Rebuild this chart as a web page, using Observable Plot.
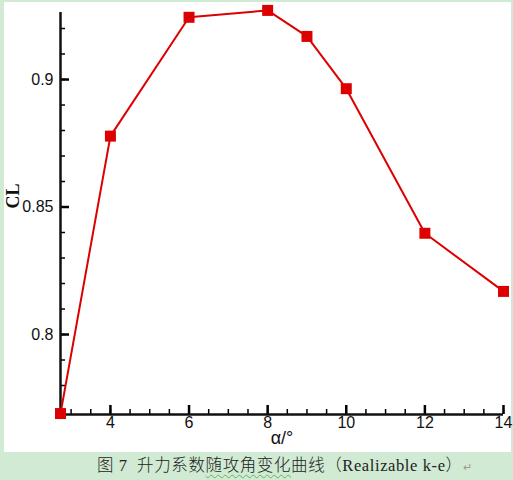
<!DOCTYPE html>
<html>
<head>
<meta charset="utf-8">
<script src="https://cdn.jsdelivr.net/npm/d3@7"></script>
<script src="https://cdn.jsdelivr.net/npm/@observablehq/plot@0.6"></script>
<style>
  html, body { margin: 0; padding: 0; }
  body { width: 513px; height: 480px; background: #d0ead3; position: relative; overflow: hidden; }
  #panel { position: absolute; left: 4px; top: 2px; width: 507px; height: 450px; background: #fff; }
  #caption { position: absolute; left: 97px; top: 454px; height: 24px; line-height: 24px; font-size: 16.5px;
    font-family: "Liberation Serif", "Noto Sans CJK SC", serif; font-weight: 300; color: #222; white-space: nowrap; letter-spacing: 0.6px; }
  #caption .wavy { text-decoration: underline wavy #5cb85c; text-decoration-thickness: 1px; text-underline-offset: 3px; }
  #caption .ret { color: #999; font-size: 11px; }
</style>
</head>
<body>
<div id="panel"></div>
<div id="caption">图 7&nbsp; 升力系数<span class="wavy">随攻角变化</span>曲线（Realizable k-e）<span class="ret">↵</span></div>
<script>
// Data
const alpha = [2.73, 4, 6, 8, 9, 10, 12, 14];
const cl = [0.769, 0.8778, 0.9244, 0.9271, 0.9169, 0.8964, 0.8397, 0.8169];

// Axis ticks
const xMajor = [4, 6, 8, 10, 12, 14];
const xMinor = d3.range(3, 14.01, 0.5);
const yMajor = [0.8, 0.85, 0.9];
const yMinor = d3.range(77, 93).map(v => v / 100);
const xDomain = [2.73, 14];
const yDomain = [0.76863, 0.92628];
const xLabel = "α/°";
const yLabel = "CL";

const data = alpha.map((a, i) => ({alpha: a, cl: cl[i]}));
const red = "#dd0000";

const chart = Plot.plot({
  width: 507,
  height: 450,
  marginLeft: 56,
  marginRight: 8,
  marginTop: 10,
  marginBottom: 38,
  style: {fontFamily: "Arimo, 'Liberation Sans', Arial, sans-serif", fontSize: "16px", color: "#111", background: "transparent", overflow: "visible"},
  x: {domain: xDomain, label: null},
  y: {domain: yDomain, label: null},
  marks: [
    // minor ticks (inward)
    Plot.axisX(xMinor, {tickSize: -5, tickFormat: () => "", strokeWidth: 1.5, stroke: "#000", label: null}),
    Plot.axisY(yMinor, {tickSize: -5, tickFormat: () => "", strokeWidth: 1.5, stroke: "#000", label: null}),
    // major ticks (inward)
    Plot.axisX(xMajor, {tickSize: -9, tickFormat: () => "", strokeWidth: 2.5, stroke: "#000", label: null}),
    Plot.axisY(yMajor, {tickSize: -9, tickFormat: () => "", strokeWidth: 2.5, stroke: "#000", label: null}),
    // labels
    Plot.axisX(xMajor, {tickSize: 0, tickPadding: 2, tickFormat: d => String(d), label: null}),
    Plot.axisY(yMajor, {tickSize: 0, tickPadding: 7, tickFormat: d => String(d), label: null}),
    // axis lines
    Plot.ruleX([xDomain[0]], {strokeWidth: 2.5}),
    Plot.ruleY([yDomain[0]], {strokeWidth: 2.5}),
    // axis titles
    Plot.text([xLabel], {frameAnchor: "bottom", dy: 29, fontSize: 18}),
    Plot.text([yLabel], {frameAnchor: "left", dx: -47, dy: -5, rotate: -90, fontSize: 18, fontWeight: "bold", fontFamily: "'Liberation Serif', 'Times New Roman', serif"}),
    // series
    Plot.line(data, {x: "alpha", y: "cl", stroke: red, strokeWidth: 2}),
    Plot.dot(data, {x: "alpha", y: "cl", symbol: "square", r: 6.2, fill: red, stroke: null})
  ]
});
document.getElementById("panel").appendChild(chart);
</script>
</body>
</html>
